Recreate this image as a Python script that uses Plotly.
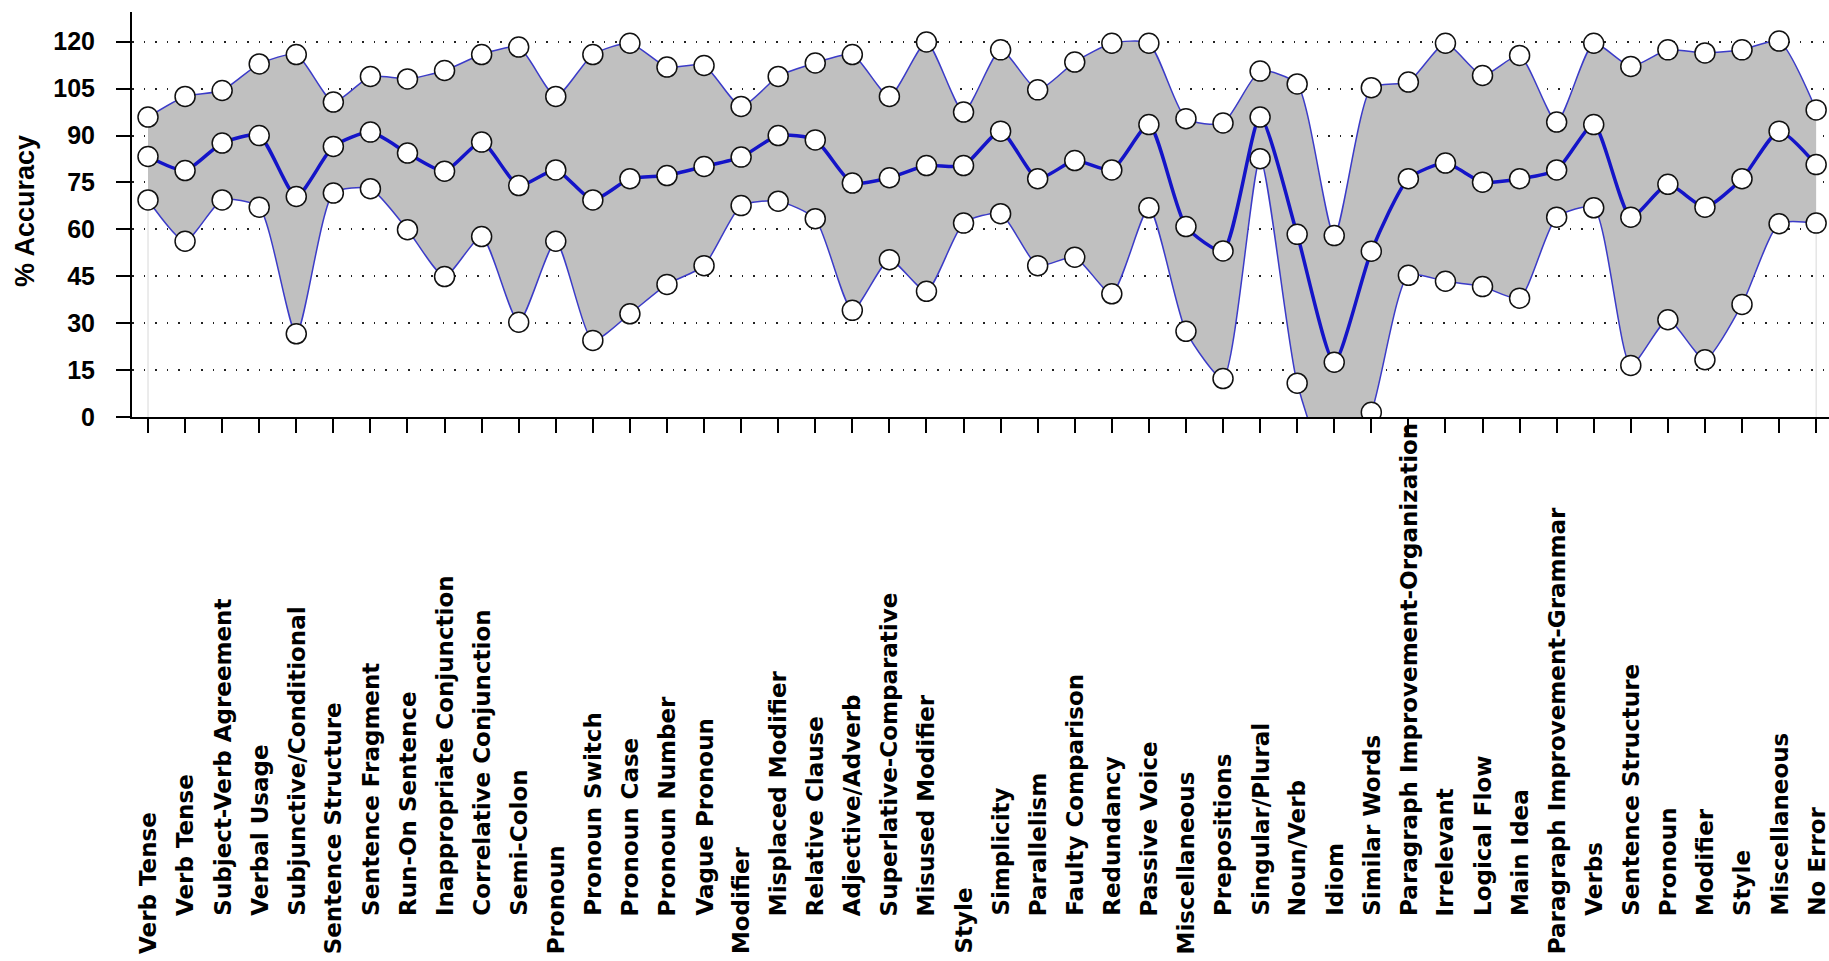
import plotly.graph_objects as go

categories = [
    "Verb Tense", "Verb Tense", "Subject-Verb Agreement", "Verbal Usage", "Subjunctive/Conditional",
    "Sentence Structure", "Sentence Fragment", "Run-On Sentence", "Inappropriate Conjunction",
    "Correlative Conjunction", "Semi-Colon", "Pronoun", "Pronoun Switch", "Pronoun Case",
    "Pronoun Number", "Vague Pronoun", "Modifier", "Misplaced Modifier", "Relative Clause",
    "Adjective/Adverb", "Superlative-Comparative", "Misused Modifier", "Style", "Simplicity",
    "Parallelism", "Faulty Comparison", "Redundancy", "Passive Voice", "Miscellaneous",
    "Prepositions", "Singular/Plural", "Noun/Verb", "Idiom", "Similar Words",
    "Paragraph Improvement-Organization", "Irrelevant", "Logical Flow", "Main Idea",
    "Paragraph Improvement-Grammar", "Verbs", "Sentence Structure", "Pronoun", "Modifier",
    "Style", "Miscellaneous", "No Error",
]
# 1 = section heading (label starts lower), 0 = sub-item
is_heading = [1, 0, 0, 0, 0, 1, 0, 0, 0, 0, 0, 1, 0, 0, 0, 0, 1, 0, 0, 0, 0, 0, 1, 0,
              0, 0, 0, 0, 1, 0, 0, 0, 0, 0, 0, 0, 0, 0, 1, 0, 0, 0, 0, 0, 0, 0]

upper = [95.9, 102.5, 104.4, 112.9, 115.9, 100.7, 108.9, 108.1, 110.8, 115.9, 118.3, 102.5,
         115.9, 119.5, 111.9, 112.4, 99.3, 108.9, 113.2, 115.9, 102.5, 119.9, 97.5, 117.4,
         104.6, 113.5, 119.5, 119.5, 95.4, 94.0, 110.6, 106.5, 58.0, 105.3, 107.1, 119.5,
         109.2, 115.6, 94.3, 119.5, 112.1, 117.4, 116.4, 117.4, 120.2, 98.2]
mean = [83.3, 78.8, 87.6, 90.0, 70.5, 86.5, 91.1, 84.4, 78.6, 87.9, 74.0, 79.0,
        69.4, 76.2, 77.2, 80.1, 83.1, 90.0, 88.6, 74.8, 76.5, 80.4, 80.4, 91.4,
        76.2, 82.0, 79.0, 93.5, 60.9, 53.1, 95.9, 58.4, 17.5, 53.0, 76.2, 81.2,
        75.1, 76.2, 79.0, 93.5, 63.9, 74.4, 67.1, 76.2, 91.4, 80.7]
lower = [69.4, 56.2, 69.4, 67.1, 26.6, 71.6, 73.0, 59.9, 44.9, 57.7, 30.3, 56.2,
         24.5, 33.0, 42.4, 48.4, 67.6, 69.0, 63.4, 34.1, 50.3, 40.2, 62.0, 65.0,
         48.4, 51.1, 39.4, 66.9, 27.4, 12.3, 82.6, 10.8, -20.0, 1.5, 45.3, 43.4,
         41.7, 38.0, 63.9, 66.9, 16.5, 31.1, 18.3, 36.0, 61.8, 62.0]

y_ticks = [0, 15, 30, 45, 60, 75, 90, 105, 120]

x = list(range(len(categories)))

W, H = 1829, 961
ML, MR, MT, MB = 132, 0, 12, 544
PW = W - ML - MR
PH = H - MT - MB

SMOOTH = 0.6
marker = dict(size=20, color="white", line=dict(color="#111111", width=1.5))
edge_line = dict(color="#3b3bc8", width=1.5, shape="spline", smoothing=SMOOTH)

fig = go.Figure()
fig.add_trace(go.Scatter(x=x, y=lower, mode="lines+markers", line=edge_line,
                         marker=marker, showlegend=False, hoverinfo="skip"))
fig.add_trace(go.Scatter(x=x, y=upper, mode="lines+markers", line=edge_line,
                         marker=marker, fill="tonexty", fillcolor="#c0c0c0",
                         showlegend=False, hoverinfo="skip"))
fig.add_trace(go.Scatter(x=x, y=mean, mode="lines+markers",
                         line=dict(color="#1414c8", width=3.5, shape="spline", smoothing=SMOOTH),
                         marker=marker, showlegend=False, hoverinfo="skip"))

annotations = []
for i, (lab, hd) in enumerate(zip(categories, is_heading)):
    bottom_px = 956 if hd else 918
    annotations.append(dict(
        x=i, xref="x", y=(MT + PH - bottom_px) / PH, yref="paper",
        text=lab, textangle=-90, showarrow=False, xanchor="center", yanchor="bottom",
        font=dict(family="DejaVu Sans", size=23, color="black", weight="bold"),
    ))
annotations.append(dict(
    x=(25 - ML) / PW, xref="paper", y=(MT + PH - 211) / PH, yref="paper", text="% Accuracy",
    textangle=-90, showarrow=False, xanchor="center", yanchor="middle",
    font=dict(family="Liberation Sans", size=27, color="black", weight="bold"),
))

shapes = [
    dict(type="line", xref="paper", yref="y", x0=(118 - ML) / PW, x1=0, y0=0, y1=0,
         line=dict(color="black", width=2)),
    dict(type="line", xref="x", yref="y", x0=x[0], x1=x[0], y0=0, y1=lower[0],
         line=dict(color="#d8d8d8", width=1), layer="below"),
    dict(type="line", xref="x", yref="y", x0=x[-1], x1=x[-1], y0=0, y1=lower[-1],
         line=dict(color="#d8d8d8", width=1), layer="below"),
]

x_left = -16 / 37.07
x_right = (len(x) - 1) + (PW - 16 - 37.07 * (len(x) - 1)) / 37.07

fig.update_layout(
    width=W, height=H,
    margin=dict(l=ML, r=MR, t=MT, b=MB, pad=0),
    plot_bgcolor="white", paper_bgcolor="white",
    annotations=annotations, shapes=shapes,
    xaxis=dict(range=[x_left, x_right], tickvals=x, ticktext=[""] * len(x),
               ticks="outside", ticklen=14, tickwidth=1.5, tickcolor="black",
               showline=True, linecolor="black", linewidth=2, showgrid=False,
               zeroline=False, fixedrange=True),
    yaxis=dict(range=[0, 129.5], tickvals=y_ticks, ticktext=[str(v) for v in y_ticks],
               ticks="outside", ticklen=14, tickwidth=1.5, tickcolor="black",
               showline=True, linecolor="black", linewidth=2,
               showgrid=True, gridcolor="#222222", gridwidth=1.5, griddash="1.5px,10px",
               zeroline=False, fixedrange=True, ticklabelstandoff=16,
               tickfont=dict(family="Liberation Sans", size=25, color="black", weight="bold")),
)

fig.write_html("out.html", config={"displayModeBar": False},
               post_script="document.body.style.margin='0';document.body.style.overflow='hidden';")
